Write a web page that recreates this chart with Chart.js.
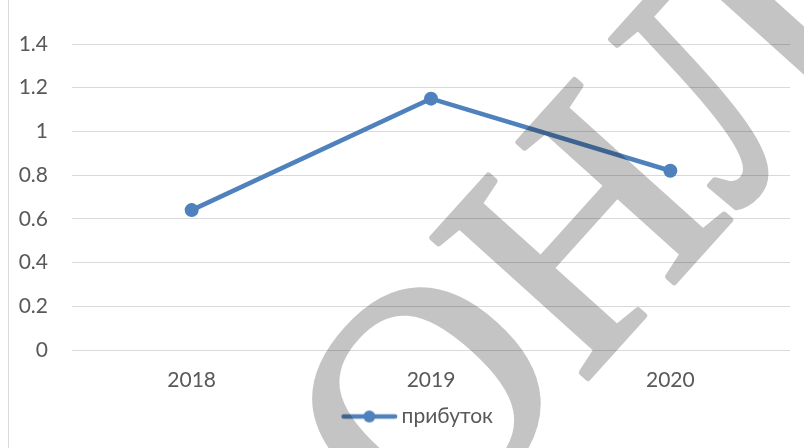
<!DOCTYPE html>
<html>
<head>
<meta charset="utf-8">
<script src="https://cdn.jsdelivr.net/npm/chart.js@4"></script>
<style>
  html,body{margin:0;padding:0;background:#fff;}
  #wrap{position:relative;width:804px;height:448px;overflow:hidden;}
  #frame{position:absolute;left:8px;top:0;bottom:0;border-left:1px solid #d9d9d9;}
  canvas{position:absolute;left:0;top:0;}
</style>
</head>
<body>
<div id="wrap">
  <div id="frame"></div>
  <canvas id="c" width="804" height="448"></canvas>
</div>
<script>
const categories = ['2018', '2019', '2020'];
const profit = [0.64, 1.15, 0.82];
const seriesName = 'прибуток';
const yTicks = [0, 0.2, 0.4, 0.6, 0.8, 1, 1.2, 1.4];
const watermarkText = 'ОНЛ';

const blue = '#4f81bd';
const textColor = '#595959';
const FONT = 'Lato';
const FS = 21;

// legend marker: line with a dot (canvas wider than the box so it sits close to the text)
const marker = document.createElement('canvas');
marker.width = 112; marker.height = 16;
(function(){
  const m = marker.getContext('2d');
  m.strokeStyle = blue; m.lineWidth = 4.5; m.lineCap = 'round';
  m.beginPath(); m.moveTo(55.5, 8); m.lineTo(107, 8); m.stroke();
  m.fillStyle = blue;
  m.beginPath(); m.arc(81.25, 8, 6, 0, Math.PI * 2); m.fill();
})();

const watermark = {
  id: 'watermark',
  afterDraw(chart) {
    const W = chart.width, H = chart.height;
    const off = document.createElement('canvas');
    off.width = W; off.height = H;
    const o = off.getContext('2d');
    o.fillStyle = '#c4c4c4';
    o.strokeStyle = '#c4c4c4';
    o.lineWidth = 6;
    o.lineJoin = 'round';
    o.font = '320px "Liberation Serif"';
    o.textAlign = 'center';
    o.textBaseline = 'middle';
    o.translate(592, 248);
    o.rotate(-48 * Math.PI / 180);
    o.fillText(watermarkText, 0, 0);
    o.strokeText(watermarkText, 0, 0);
    const ctx = chart.ctx;
    ctx.save();
    ctx.globalCompositeOperation = 'multiply';
    ctx.drawImage(off, 0, 0);
    ctx.restore();
  }
};

new Chart(document.getElementById('c'), {
  type: 'line',
  data: {
    labels: categories,
    datasets: [{
      label: seriesName,
      data: profit,
      borderColor: blue,
      backgroundColor: blue,
      borderWidth: 4.5,
      pointRadius: 7,
      pointHoverRadius: 7,
      pointBackgroundColor: blue,
      pointBorderWidth: 0,
      tension: 0,
      pointStyle: 'circle'
    }]
  },
  options: {
    responsive: false,
    animation: false,
    devicePixelRatio: 1,
    layout: { padding: { left: 0, right: 14, top: 44, bottom: 11 } },
    plugins: {
      tooltip: { enabled: false },
      legend: {
        position: 'bottom',
        labels: {
          usePointStyle: true,
          pointStyle: marker,
          pointStyleWidth: 94,
          padding: 12,
          color: textColor,
          font: { family: FONT, size: FS },
          generateLabels(chart) {
            return chart.data.datasets.map((d, i) => ({
              text: d.label, pointStyle: marker, fillStyle: blue, strokeStyle: blue,
              lineWidth: 0, hidden: false, datasetIndex: i, fontColor: textColor
            }));
          }
        }
      }
    },
    scales: {
      x: {
        offset: true,
        afterFit(s) { s.height = 44; },
        grid: { display: false, drawTicks: false },
        border: { display: false },
        ticks: { color: textColor, font: { family: FONT, size: FS }, padding: 18 }
      },
      y: {
        min: 0, max: 1.4,
        afterFit(s) { s.width = 72; },
        afterBuildTicks(s) { s.ticks = yTicks.map(v => ({ value: v })); },
        grid: { color: '#d9d9d9', lineWidth: 1, drawTicks: false },
        border: { display: false },
        ticks: { color: textColor, font: { family: FONT, size: FS }, padding: 24,
                 callback: v => String(v) }
      }
    }
  },
  plugins: [watermark]
});
</script>
</body>
</html>
